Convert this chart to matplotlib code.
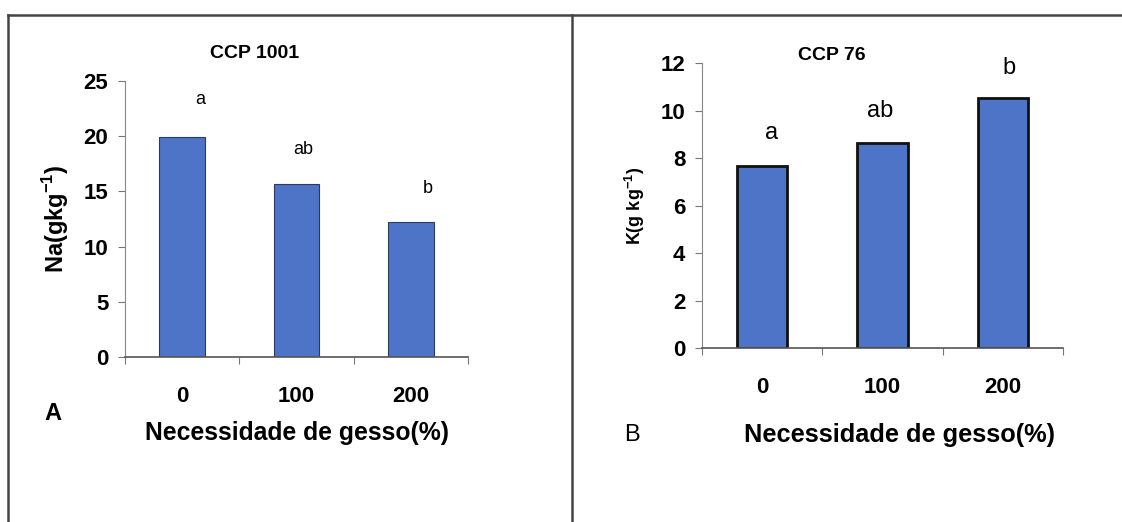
import matplotlib
matplotlib.use("Agg")
import matplotlib.pyplot as plt
from matplotlib.lines import Line2D
import numpy as np

plt.rcParams['font.family'] = ['Liberation Sans', 'DejaVu Sans']
plt.rcParams['mathtext.fontset'] = 'custom'
plt.rcParams['mathtext.rm'] = 'Liberation Sans'
plt.rcParams['mathtext.bf'] = 'Liberation Sans:bold'

# Gypsum requirement levels (%)
doses = ["0", "100", "200"]

# Panel A: sodium content, CCP 1001
na_values = [19.9, 15.7, 12.2]
na_letters = ["a", "ab", "b"]
na_letter_y = [23.3, 18.8, 15.3]

# Panel B: potassium content, CCP 76
k_values = [7.66, 8.63, 10.53]
k_letters = ["a", "ab", "b"]
k_letter_y = [9.05, 10.0, 11.8]

bar_color = "#4d74c6"

fig = plt.figure(figsize=(11.22, 5.22), dpi=100)


def style_axes(ax, ymax, ystep):
    ax.set_xlim(0, 3)
    ax.set_ylim(0, ymax)
    ax.set_yticks(np.arange(0, ymax + 0.01, ystep))
    ax.set_xticks([0, 1, 2, 3])
    ax.set_xticklabels([])
    ax.tick_params(axis="x", direction="out", length=5, width=0.8, color="#777777")
    ax.tick_params(axis="y", direction="out", length=5, width=0.8, color="#777777",
                   labelsize=16, pad=7)
    for lab in ax.get_yticklabels():
        lab.set_fontweight("bold")
    for s in ["top", "right"]:
        ax.spines[s].set_visible(False)
    ax.spines["left"].set_color("#888888")
    ax.spines["left"].set_linewidth(0.8)
    ax.spines["bottom"].set_color("#555555")
    ax.spines["bottom"].set_linewidth(1.2)
    ax.patch.set_alpha(0)


# ---- Panel A ----
axA = fig.add_axes([0.1114, 0.3161, 0.3057, 0.5287])
xA = np.arange(len(doses)) + 0.5
axA.bar(xA, na_values, width=0.4, color=bar_color, edgecolor="#2a3a60", linewidth=0.8)
style_axes(axA, 25, 5)
for x, dx, t, y in zip(xA, [0.16, 0.06, 0.15], na_letters, na_letter_y):
    axA.text(x + dx, y, t, ha="center", va="center", fontsize=13)
for x, d in zip(xA, doses):
    axA.text(x, -3.6, d, ha="center", va="center", fontsize=16, fontweight="bold")
axA.set_ylabel("Na(gkg$^{\\mathbf{-1}}$)", fontsize=17, fontweight="bold", labelpad=9)
fig.text(255 / 1122, 1 - 53 / 522, "CCP 1001", ha="center", va="center",
         fontsize=14, fontweight="bold")
fig.text(53 / 1122, 1 - 413 / 522, "A", ha="center", va="center",
         fontsize=17, fontweight="bold")
fig.text(297 / 1122, 1 - 433 / 522, "Necessidade de gesso(%)", ha="center", va="center",
         fontsize=17.8, fontweight="bold")

# ---- Panel B ----
axB = fig.add_axes([0.6257, 0.3333, 0.3217, 0.546])
xB = np.arange(len(doses)) + 0.5
axB.bar(xB, k_values, width=0.42, color=bar_color, edgecolor="#111111", linewidth=2.0)
style_axes(axB, 12, 2)
for x, dx, t, y in zip(xB, [0.08, -0.02, 0.05], k_letters, k_letter_y):
    axB.text(x + dx, y, t, ha="center", va="center", fontsize=17)
for x, d in zip(xB, doses):
    axB.text(x, -1.65, d, ha="center", va="center", fontsize=16, fontweight="bold")
axB.set_ylabel("K(g kg$^{\\mathbf{-1}}$)", fontsize=13, fontweight="bold", labelpad=10)
fig.text(832 / 1122, 1 - 55 / 522, "CCP 76", ha="center", va="center",
         fontsize=14, fontweight="bold")
fig.text(632 / 1122, 1 - 435 / 522, "B", ha="center", va="center", fontsize=17)
fig.text(900 / 1122, 1 - 435 / 522, "Necessidade de gesso(%)", ha="center", va="center",
         fontsize=18.3, fontweight="bold")

# ---- Frame lines around the panels ----
frame_kw = dict(color="#444444", linewidth=1.8, transform=fig.transFigure)
y_top = 1 - 15 / 522
fig.add_artist(Line2D([8 / 1122, 1.0], [y_top, y_top], **frame_kw))
fig.add_artist(Line2D([8 / 1122, 8 / 1122], [0, y_top], **frame_kw))
fig.add_artist(Line2D([572 / 1122, 572 / 1122], [0, y_top], **frame_kw))

fig.savefig("out.png", dpi=100, facecolor="white")
